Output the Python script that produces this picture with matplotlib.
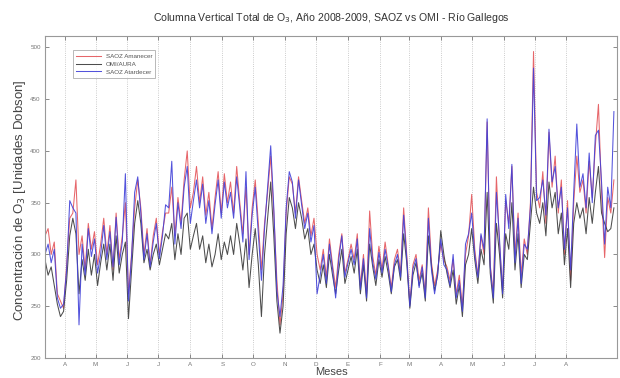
#!/usr/bin/env python3
"""Columna vertical total de O3, SAOZ vs OMI - Rio Gallegos -> out.png"""
import matplotlib
matplotlib.use("Agg")
import matplotlib.pyplot as plt
import pandas as pd

# serie cada 3 dias desde el 13-mar-2008 (en UD)
START = "2008-03-13"
STEP = "3D"

saoz_amanecer = [
    318, 325, 300, 312, 262, 255, 248, 290, 335, 340,
    372, 300, 318, 285, 330, 305, 322, 290, 310, 335,
    300, 328, 285, 340, 295, 318, 350, 262, 300, 345,
    372, 345, 300, 325, 290, 318, 335, 300, 322, 340,
    340, 365, 318, 355, 330, 372, 400, 345, 360, 385,
    350, 375, 338, 360, 325, 355, 380, 340, 378, 350,
    370, 340, 385, 350, 320, 365, 300, 345, 372, 330,
    285, 330, 360, 395, 340, 275, 232, 262, 340, 375,
    368, 340, 375, 352, 330, 345, 318, 335, 300, 285,
    305, 278, 315, 290, 268, 300, 320, 282, 295, 310,
    295, 320, 270, 300, 262, 342, 298, 280, 308, 285,
    312, 290, 268, 295, 305, 282, 345, 300, 252, 290,
    300, 275, 290, 262, 345, 292, 270, 285, 310, 295,
    288, 275, 295, 262, 280, 250, 300, 318, 358, 305,
    280, 318, 300, 428, 290, 262, 375, 310, 265, 352,
    330, 385, 300, 340, 280, 315, 300, 350, 496, 360,
    345, 380, 330, 418, 365, 395, 340, 372, 300, 352,
    275, 350, 395, 360, 372, 340, 390, 355, 405, 445,
    360, 297, 355, 340, 372,
]
omi_aura = [
    295, 280, 288, 270, 252, 240, 245, 275, 318, 335,
    320, 262, 295, 275, 305, 280, 300, 270, 292, 310,
    285, 310, 275, 318, 282, 300, 312, 238, 285, 330,
    352, 330, 292, 305, 285, 300, 310, 290, 305, 320,
    315, 330, 295, 320, 300, 335, 340, 305, 318, 330,
    305, 318, 292, 310, 288, 300, 320, 295, 312, 300,
    318, 300, 330, 310, 285, 315, 268, 300, 325, 290,
    240, 300, 335, 370, 318, 255, 224, 250, 320, 355,
    345, 325, 350, 335, 315, 325, 300, 310, 285, 272,
    290, 268, 300, 280, 262, 285, 305, 272, 285, 298,
    282, 305, 262, 290, 255, 310, 288, 270, 295, 278,
    298, 282, 262, 288, 295, 275, 320, 292, 248, 280,
    292, 270, 282, 255, 318, 288, 265, 280, 323, 300,
    282, 268, 285, 252, 270, 240, 290, 300, 325, 295,
    272, 305, 290, 360, 282, 253, 330, 300, 258, 320,
    305, 350, 285, 320, 268, 300, 295, 330, 365, 340,
    330, 350, 318, 370, 345, 360, 320, 340, 290, 325,
    268, 330, 350, 335, 345, 320, 355, 330, 360, 385,
    340, 330, 322, 325, 345,
]
saoz_atardecer = [
    300, 310, 292, 305, 258, 248, 252, 285, 352, 345,
    340, 232, 310, 280, 325, 298, 315, 282, 300, 328,
    295, 322, 288, 336, 290, 312, 378, 255, 298, 360,
    375, 340, 295, 320, 288, 312, 330, 296, 318, 348,
    345, 390, 310, 350, 325, 365, 385, 330, 352, 372,
    345, 368, 330, 352, 320, 348, 372, 335, 370, 345,
    360, 335, 375, 345, 312, 380, 295, 338, 365, 320,
    275, 325, 365, 405, 345, 265, 240, 270, 345, 380,
    370, 335, 372, 348, 325, 340, 312, 328, 262, 280,
    300, 272, 310, 286, 258, 295, 318, 278, 292, 305,
    290, 315, 266, 296, 258, 325, 292, 276, 302, 282,
    305, 288, 264, 290, 300, 278, 338, 296, 250, 286,
    296, 268, 288, 258, 335, 285, 262, 282, 315, 290,
    285, 270, 300, 258, 275, 245, 310, 320, 340, 300,
    278, 320, 305, 431, 288, 258, 360, 315, 262, 358,
    325, 387, 292, 335, 272, 310, 305, 345, 480, 352,
    355, 372, 338, 421, 370, 385, 345, 365, 305, 345,
    285, 360, 426, 365, 378, 345, 398, 350, 415, 420,
    370, 310, 365, 345, 438,
]

month_ticks = pd.date_range("2008-04-01", "2009-08-01", freq="MS")
month_labels = ["A", "M", "J", "J", "A", "S", "O", "N", "D",
                "E", "F", "M", "A", "M", "J", "J", "A"]
y_ticks = [200, 250, 300, 350, 400, 450, 500]

plt.rcParams["font.family"] = ["Liberation Sans", "DejaVu Sans"]

fig = plt.figure(figsize=(6.2, 3.78), dpi=100)
ax = fig.add_axes([45 / 620, 20 / 378, 572 / 620, 322 / 378])

def fechas(serie):
    return pd.date_range(START, periods=len(serie), freq=STEP)

ax.plot(fechas(saoz_amanecer), saoz_amanecer, color="#e4555a", lw=0.75, alpha=0.9,
        label="SAOZ Amanecer")
ax.plot(fechas(omi_aura), omi_aura, color="#3a3a3a", lw=0.75, alpha=0.9, label="OMI/AURA")
ax.plot(fechas(saoz_atardecer), saoz_atardecer, color="#4040d8", lw=0.75, alpha=0.9,
        label="SAOZ Atardecer")

ax.set_xlim(pd.Timestamp("2008-03-13"), pd.Timestamp("2009-09-19"))
ax.set_ylim(200, 511)
ax.set_xticks(month_ticks)
ax.set_xticklabels(month_labels)
ax.set_yticks(y_ticks)
ax.tick_params(direction="in", length=3, width=0.6, colors="#777777", labelsize=4.5,
               top=True, right=True, labeltop=False, labelright=False, pad=3)
ax.grid(axis="x", color="#bbbbbb", lw=0.6, linestyle=":")
for sp in ax.spines.values():
    sp.set_color("#999999")
    sp.set_linewidth(0.8)

leg = ax.legend(loc="upper left", bbox_to_anchor=(0.043, 0.965), fontsize=4.5,
                frameon=True, fancybox=False, edgecolor="#999999", handlelength=4,
                borderpad=0.5, labelspacing=0.4)
leg.get_frame().set_linewidth(0.6)
for t in leg.get_texts():
    t.set_color("#555555")

fig.text(331 / 620, 1 - 18 / 378,
         "Columna Vertical Total de O$_3$, Año 2008-2009, SAOZ vs OMI - Río Gallegos",
         ha="center", va="center", fontsize=7.6, color="#333333")
fig.text(20 / 620, 1 - 200 / 378, "Concentración de O$_3$ [Unidades Dobson]",
         ha="center", va="center", rotation=90, fontsize=9.5, color="#444444")
fig.text(331 / 620, 1 - 372 / 378, "Meses", ha="center", va="center",
         fontsize=8, color="#444444")

fig.savefig("out.png", dpi=100)
